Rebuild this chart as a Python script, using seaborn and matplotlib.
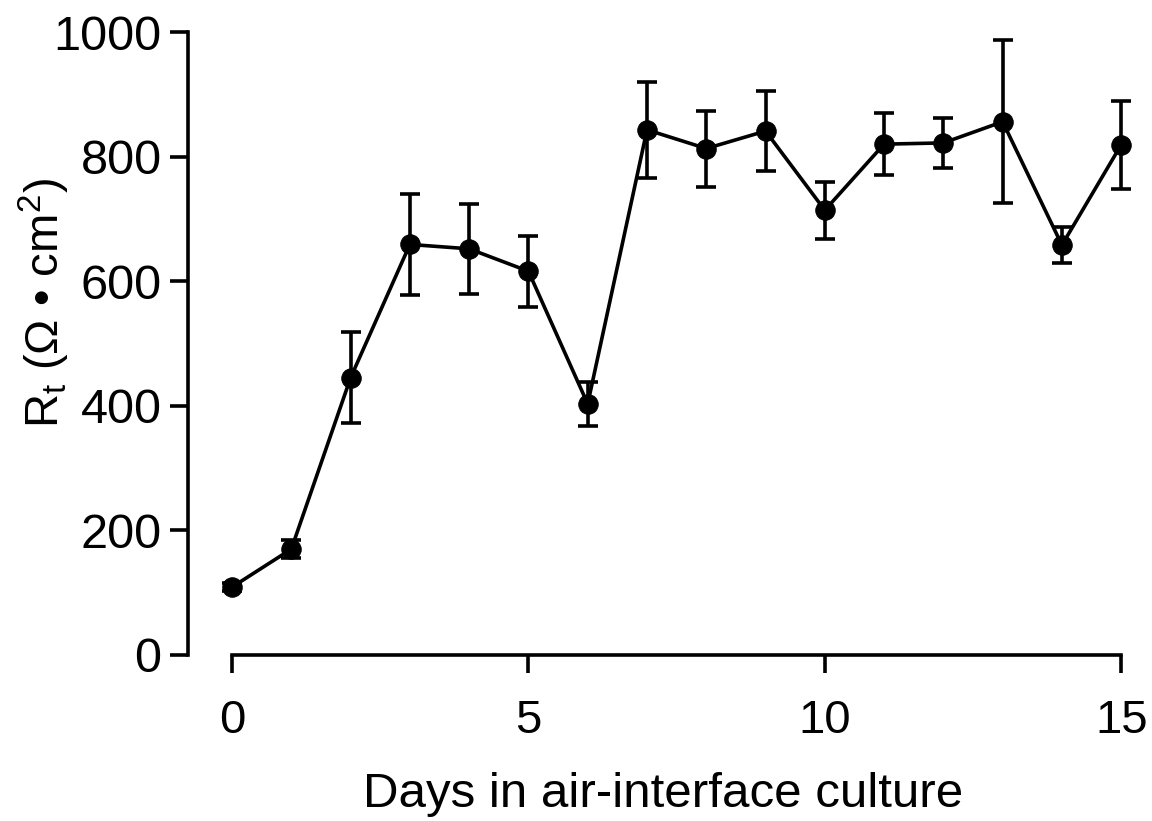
import matplotlib
matplotlib.use("Agg")
import matplotlib.pyplot as plt
import numpy as np
import pandas as pd
import seaborn as sns

# values
days = [0, 1, 2, 3, 4, 5, 6, 7, 8, 9, 10, 11, 12, 13, 14, 15]
rt_mean = [109, 170, 445, 659, 652, 616, 403, 843, 813, 841, 714, 820, 822, 856, 658, 819]
rt_err = [6, 14, 73, 81, 72, 57, 35, 77, 61, 64, 46, 50, 40, 131, 29, 71]

df = pd.DataFrame({"day": days, "rt": rt_mean, "err": rt_err})

sns.set_style("ticks", {"text.color": "black", "axes.labelcolor": "black",
                        "xtick.color": "black", "ytick.color": "black",
                        "axes.edgecolor": "black"})
plt.rcParams["font.family"] = ["Liberation Sans", "DejaVu Sans"]
plt.rcParams["mathtext.fontset"] = "custom"
plt.rcParams["mathtext.rm"] = "Liberation Sans"

fig = plt.figure(figsize=(11.52, 8.21), dpi=100)
ax = fig.add_axes([0.1632, 0.2022, 0.8255, 0.7588])

lw = 2.6
ax.errorbar(df["day"], df["rt"], yerr=df["err"], fmt="none", ecolor="black",
            elinewidth=lw, capsize=7.5, capthick=lw, zorder=2)
sns.lineplot(data=df, x="day", y="rt", ax=ax, color="black", linewidth=lw,
             marker="o", markersize=14, markeredgecolor="black", zorder=3)

ax.set_xlim(-0.743, 15.3)
ax.set_ylim(0, 1000)
ax.set_xticks([0, 5, 10, 15])
ax.set_yticks([0, 200, 400, 600, 800, 1000])

sns.despine(ax=ax)
ax.spines["left"].set_bounds(0, 1000)
ax.spines["bottom"].set_bounds(0, 15)
for s in ("left", "bottom"):
    ax.spines[s].set_linewidth(lw)
ax.tick_params(axis="both", width=lw, length=13, color="black")
ax.tick_params(axis="y", labelsize=35, pad=6)
ax.tick_params(axis="x", labelsize=34, pad=19)

ax.set_xlabel("Days in air-interface culture", fontsize=35.5)
ax.xaxis.set_label_coords(0.5, -0.188)
ax.set_ylabel(r"R$_\mathregular{t}$ (Ω • cm$^\mathregular{2}$)", fontsize=34)
ax.yaxis.set_label_coords(-0.122, 0.565)

for line in ax.lines:
    line.set_clip_on(False)

fig.savefig("out.png", dpi=100)
